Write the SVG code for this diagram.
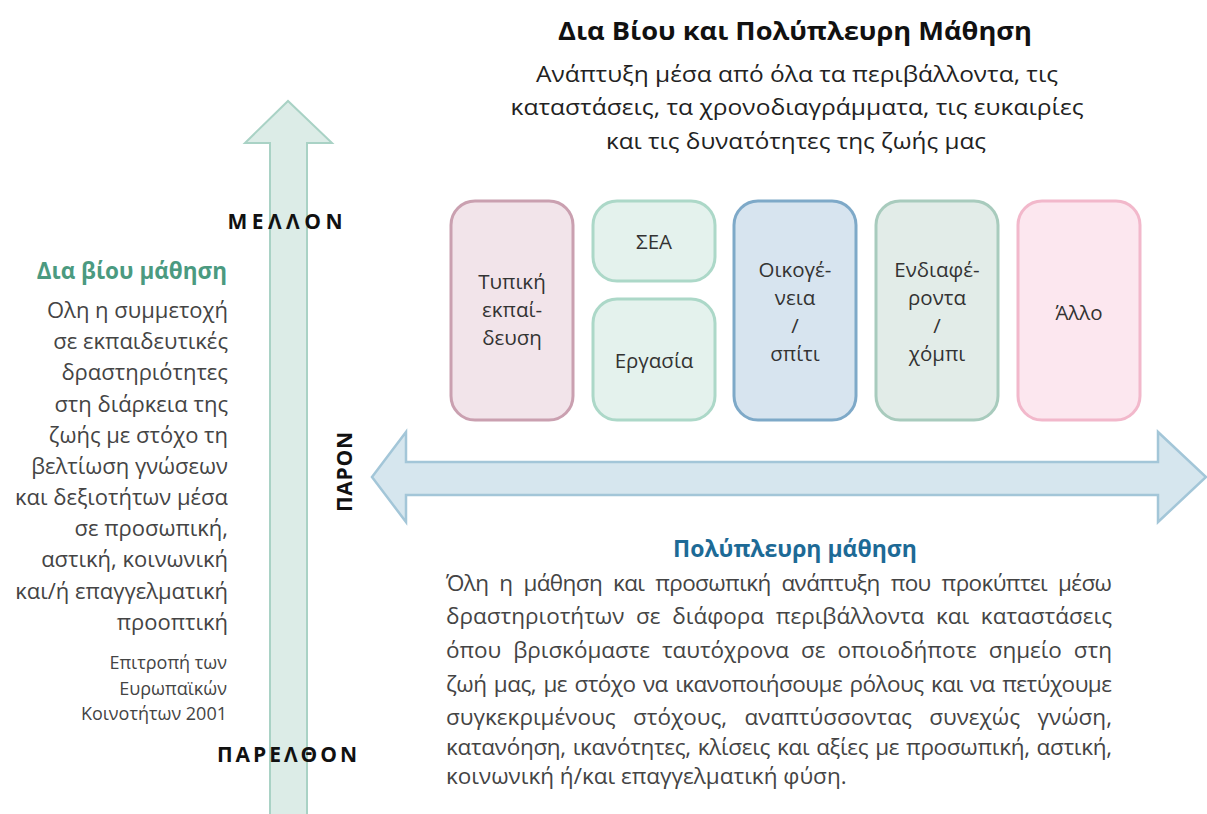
<svg xmlns="http://www.w3.org/2000/svg" width="1207" height="814" viewBox="0 0 1207 814">
<style>
text{font-family:"Open Sans","Noto Sans",sans-serif;fill:#333}
.title{font-size:25px;font-weight:bold;fill:#111;text-anchor:middle}
.sub{font-size:22px;fill:#222;text-anchor:middle}
.lbl{font-size:20.5px;fill:#333;text-anchor:middle}
.time{font-size:21px;font-weight:bold;fill:#111;text-anchor:middle}
.lhead{font-size:22.5px;font-weight:bold;fill:#4b9a80;text-anchor:end}
.lbody{font-size:22px;fill:#444;text-anchor:end}
.cite{font-size:18px;fill:#444;text-anchor:end}
.rhead{font-size:23px;font-weight:bold;fill:#1d6a96;text-anchor:middle}
.rbody{font-size:22.5px;fill:#444}
.box{stroke-width:3}
</style>
<g id="connectors">
<polygon id="vertical-arrow" points="270,816 270,143 245,143 288,101 332,143 307,143 307,816" fill="#dcece7" stroke="#a9d2c5" stroke-width="2"/>
<polygon id="horizontal-arrow" points="372,477 406,432 406,462 1158,462 1158,432 1206,477 1158,522 1158,495 406,495 406,522" fill="#d6e6ee" stroke="#a3c6d8" stroke-width="2.5"/>
</g>
<g id="title">
<text class="title" x="795" y="40" textLength="474" lengthAdjust="spacingAndGlyphs">Δια Βίου και Πολύπλευρη Μάθηση</text>
<text class="sub" x="797" y="82" textLength="522" lengthAdjust="spacingAndGlyphs">Ανάπτυξη μέσα από όλα τα περιβάλλοντα, τις</text>
<text class="sub" x="797" y="115" textLength="573" lengthAdjust="spacingAndGlyphs">καταστάσεις, τα χρονοδιαγράμματα, τις ευκαιρίες</text>
<text class="sub" x="796" y="149" textLength="380" lengthAdjust="spacingAndGlyphs">και τις δυνατότητες της ζωής μας</text>
</g>
<g id="node-typiki">
<rect class="box" x="451" y="201" width="122" height="219" rx="24" fill="#f2e4ea" stroke="#caa0b0"/>
<text class="lbl" x="512" y="289">Τυπική</text>
<text class="lbl" x="512" y="317">εκπαί-</text>
<text class="lbl" x="512" y="345">δευση</text>
</g>
<g id="node-sea">
<rect class="box" x="593" y="201" width="122" height="80" rx="24" fill="#e4f2ed" stroke="#acd8c8"/>
<text class="lbl" x="654" y="249">ΣΕΑ</text>
</g>
<g id="node-ergasia">
<rect class="box" x="593" y="299" width="122" height="121" rx="24" fill="#e4f2ed" stroke="#acd8c8"/>
<text class="lbl" x="654" y="368">Εργασία</text>
</g>
<g id="node-oikogeneia">
<rect class="box" x="734" y="201" width="122" height="219" rx="24" fill="#d7e4ef" stroke="#7ea9c8"/>
<text class="lbl" x="795" y="277">Οικογέ-</text>
<text class="lbl" x="795" y="305">νεια</text>
<text class="lbl" x="795" y="333">/</text>
<text class="lbl" x="795" y="361">σπίτι</text>
</g>
<g id="node-endiaferonta">
<rect class="box" x="876" y="201" width="122" height="219" rx="24" fill="#e2ece8" stroke="#a8cbbd"/>
<text class="lbl" x="937" y="277">Ενδιαφέ-</text>
<text class="lbl" x="937" y="305">ροντα</text>
<text class="lbl" x="937" y="333">/</text>
<text class="lbl" x="937" y="361">χόμπι</text>
</g>
<g id="node-allo">
<rect class="box" x="1018" y="201" width="122" height="219" rx="24" fill="#fce7ef" stroke="#f2b8cb"/>
<text class="lbl" x="1079" y="320">Άλλο</text>
</g>
<g id="time-labels">
<text class="time" x="285" y="229" textLength="115" lengthAdjust="spacing">ΜΕΛΛΟΝ</text>
<text class="time" x="287" y="762" textLength="140" lengthAdjust="spacing">ΠΑΡΕΛΘΟΝ</text>
<text class="time" transform="translate(352,472) rotate(-90)" x="0" y="0" textLength="80" lengthAdjust="spacing">ΠΑΡΟΝ</text>
</g>
<g id="left-text">
<text class="lhead" x="227" y="279">Δια βίου μάθηση</text>
<text class="lbody" x="228" y="318">Ολη η συμμετοχή</text>
<text class="lbody" x="228" y="349">σε εκπαιδευτικές</text>
<text class="lbody" x="228" y="380">δραστηριότητες</text>
<text class="lbody" x="228" y="412">στη διάρκεια της</text>
<text class="lbody" x="228" y="443">ζωής με στόχο τη</text>
<text class="lbody" x="228" y="474">βελτίωση γνώσεων</text>
<text class="lbody" x="228" y="505">και δεξιοτήτων μέσα</text>
<text class="lbody" x="228" y="536">σε προσωπική,</text>
<text class="lbody" x="228" y="567">αστική, κοινωνική</text>
<text class="lbody" x="228" y="599">και/ή επαγγελματική</text>
<text class="lbody" x="228" y="630">προοπτική</text>
<text class="cite" x="227" y="669">Επιτροπή των</text>
<text class="cite" x="227" y="695">Ευρωπαϊκών</text>
<text class="cite" x="227" y="720">Κοινοτήτων 2001</text>
</g>
<g id="right-text">
<text class="rhead" x="795" y="557">Πολύπλευρη μάθηση</text>
<text class="rbody" x="446" y="591" word-spacing="5.6" textLength="666" lengthAdjust="spacing">Όλη η μάθηση και προσωπική ανάπτυξη που προκύπτει μέσω</text>
<text class="rbody" x="446" y="624" word-spacing="5.8" textLength="666" lengthAdjust="spacing">δραστηριοτήτων σε διάφορα περιβάλλοντα και καταστάσεις</text>
<text class="rbody" x="446" y="658" word-spacing="6.2" textLength="666" lengthAdjust="spacing">όπου βρισκόμαστε ταυτόχρονα σε οποιοδήποτε σημείο στη</text>
<text class="rbody" x="446" y="692" word-spacing="2" textLength="666" lengthAdjust="spacing">ζωή μας, με στόχο να ικανοποιήσουμε ρόλους και να πετύχουμε</text>
<text class="rbody" x="446" y="725" word-spacing="11.5" textLength="666" lengthAdjust="spacing">συγκεκριμένους στόχους, αναπτύσσοντας συνεχώς γνώση,</text>
<text class="rbody" x="446" y="755" word-spacing="1.3" textLength="666" lengthAdjust="spacing">κατανόηση, ικανότητες, κλίσεις και αξίες με προσωπική, αστική,</text>
<text class="rbody" x="446" y="784">κοινωνική ή/και επαγγελματική φύση.</text>
</g>
</svg>
